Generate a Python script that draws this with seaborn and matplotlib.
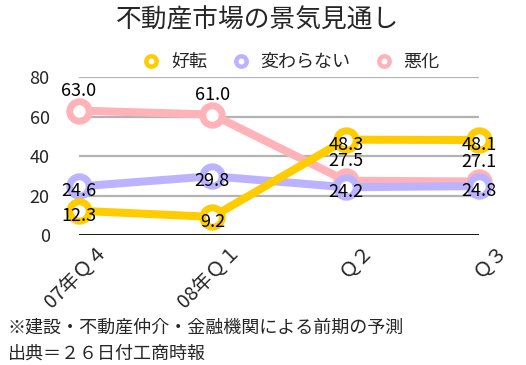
import matplotlib
matplotlib.use("Agg")
import matplotlib.pyplot as plt
import matplotlib.transforms as mtransforms
from matplotlib.lines import Line2D
import numpy as np
import pandas as pd
import seaborn as sns

categories = ["07年Ｑ４", "08年Ｑ１", "Ｑ２", "Ｑ３"]
series_names = ["好転", "変わらない", "悪化"]
improve = [12.3, 9.2, 48.3, 48.1]
unchanged = [24.6, 29.8, 24.2, 24.8]
worse = [63.0, 61.0, 27.5, 27.1]
y_ticks = [0, 20, 40, 60, 80]
title = "不動産市場の景気見通し"
notes = ["※建設・不動産仲介・金融機関による前期の予測", "出典＝２６日付工商時報"]
colors = {"好転": "#FFCC00", "変わらない": "#BBB3FF", "悪化": "#FFB3B8"}

sns.set_theme(style="white")
plt.rcParams["font.family"] = ["Noto Sans CJK JP", "DejaVu Sans"]

values = {"好転": improve, "変わらない": unchanged, "悪化": worse}
df = pd.DataFrame({
    "period": categories * len(series_names),
    "series": [s for s in series_names for _ in categories],
    "value": improve + unchanged + worse,
})

fig = plt.figure(figsize=(5.26, 3.65), dpi=100)
ax = fig.add_axes([0.150, 0.356, 0.761, 0.433])

draw_order = ["悪化", "変わらない", "好転"]
for name in draw_order:
    sub = df[df["series"] == name]
    sns.lineplot(data=sub, x="period", y="value", color=colors[name], lw=5.8,
                 marker="o", markersize=14, markerfacecolor="white",
                 markeredgecolor=colors[name], markeredgewidth=5.0,
                 ax=ax, sort=False, legend=False, zorder=3, clip_on=False)

for name in draw_order:
    for cat, v in zip(categories, values[name]):
        off = 14 if name == "悪化" else -3.6
        ax.annotate(f"{v:.1f}", xy=(cat, v), xytext=(0, off), textcoords="offset points",
                    ha="center", va="center", fontsize=13, color="black", zorder=10,
                    annotation_clip=False)

ax.set_xlim(-0.0, len(categories) - 1)
ax.set_ylim(y_ticks[0], y_ticks[-1])
ax.set_yticks(y_ticks)
ax.set_xlabel("")
ax.set_ylabel("")
for s in ax.spines.values():
    s.set_visible(False)
for t in y_ticks[1:]:
    ax.axhline(t, color="#B3B3B3", lw=1.6, zorder=1)
ax.axhline(0, color="black", lw=2, zorder=2)
ax.tick_params(axis="y", length=0, pad=21, labelsize=13)
ax.tick_params(axis="x", length=0, pad=9, labelsize=14)
offset = mtransforms.ScaledTranslation(25 / 100, 0, fig.dpi_scale_trans)
for lab in ax.get_xticklabels():
    lab.set_rotation(45)
    lab.set_ha("right")
    lab.set_va("center")
    lab.set_rotation_mode("anchor")
    lab.set_transform(lab.get_transform() + offset)

fig.text(257.5 / 526, 1 - 20 / 365, title, ha="center", va="center", fontsize=18.5)

handles = [Line2D([], [], ls="none", marker="o", markersize=7.5, markerfacecolor="white",
                  markeredgecolor=colors[n], markeredgewidth=3.2) for n in series_names]
fig.legend(handles, series_names, loc="center", bbox_to_anchor=(291 / 526, 1 - 62 / 365),
           ncol=3, frameon=False, fontsize=13, handlelength=1.0, handletextpad=0.6,
           columnspacing=1.35)

fig.text(8 / 526, 1 - 327 / 365, notes[0], ha="left", va="center", fontsize=13)
fig.text(8 / 526, 1 - 354 / 365, notes[1], ha="left", va="center", fontsize=13)

fig.savefig("out.png", dpi=100)
